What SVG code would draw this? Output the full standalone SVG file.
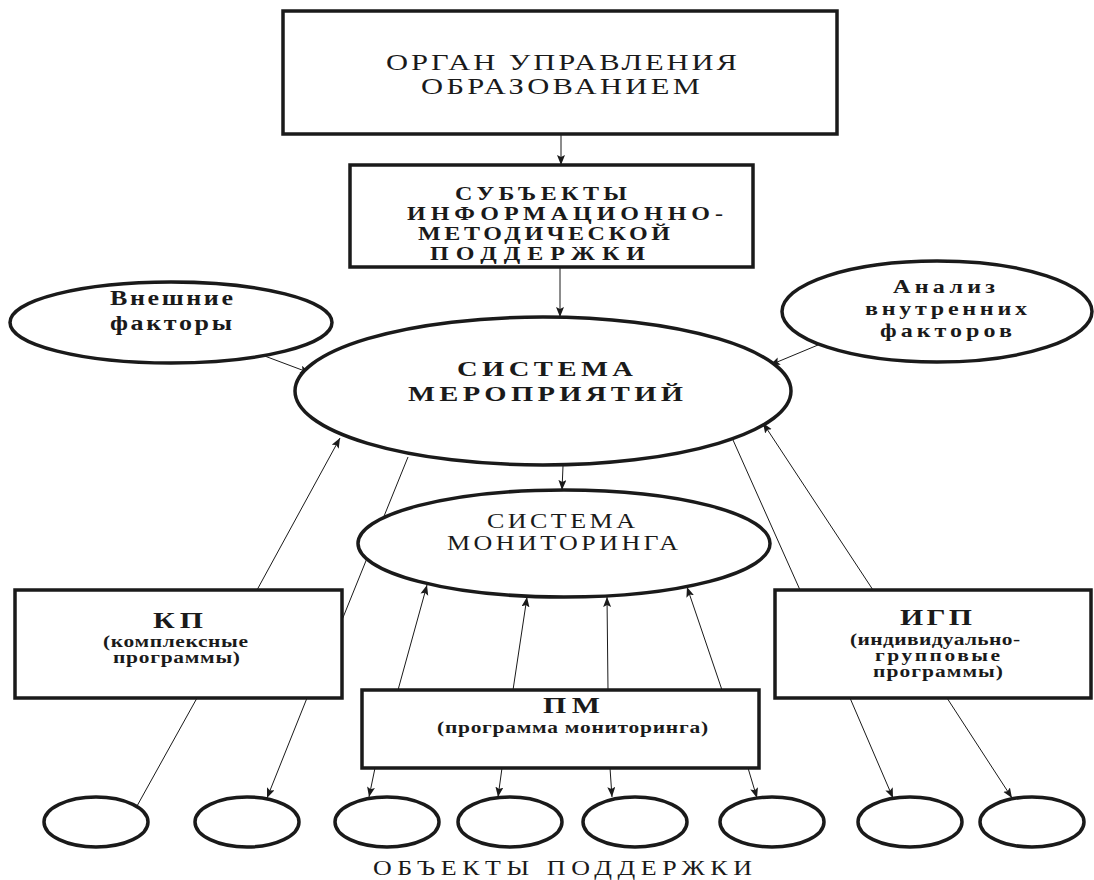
<svg xmlns="http://www.w3.org/2000/svg" width="1094" height="880" viewBox="0 0 1094 880">
<style>
.node{fill:#fff;stroke:#1a1a1a;stroke-width:3.5}
.c{stroke:#1a1a1a;stroke-width:1;fill:none}
text{font-family:"Liberation Serif","Times New Roman",serif;fill:#1a1a1a}
.b{font-weight:bold}
</style>
<defs>
<marker id="ah" markerUnits="userSpaceOnUse" markerWidth="11" markerHeight="9" refX="10" refY="4" orient="auto">
<path d="M0,0 L10,4 L0,8 L2,4 z" fill="#1a1a1a"/>
</marker>
</defs>
<rect width="1094" height="880" fill="#fff"/>
<g id="connectors">
<line class="c" x1="561" y1="134" x2="561" y2="165" marker-end="url(#ah)"/>
<line class="c" x1="560" y1="267" x2="560" y2="317" marker-end="url(#ah)"/>
<line class="c" x1="262" y1="355" x2="310" y2="373" marker-end="url(#ah)"/>
<line class="c" x1="818" y1="345" x2="770" y2="365" marker-end="url(#ah)"/>
<line class="c" x1="257" y1="590" x2="340" y2="438" marker-end="url(#ah)"/>
<line class="c" x1="408" y1="457" x2="342" y2="620"/>
<line class="c" x1="873" y1="590" x2="763" y2="423" marker-end="url(#ah)"/>
<line class="c" x1="733" y1="440" x2="800" y2="590"/>
<line class="c" x1="563" y1="466" x2="562" y2="490" marker-end="url(#ah)"/>
<line class="c" x1="398" y1="690" x2="427" y2="585" marker-end="url(#ah)"/>
<line class="c" x1="513" y1="690" x2="527" y2="597" marker-end="url(#ah)"/>
<line class="c" x1="608" y1="690" x2="607" y2="597" marker-end="url(#ah)"/>
<line class="c" x1="722" y1="690" x2="687" y2="587" marker-end="url(#ah)"/>
<line class="c" x1="375" y1="768" x2="369" y2="797" marker-end="url(#ah)"/>
<line class="c" x1="502" y1="768" x2="498" y2="797" marker-end="url(#ah)"/>
<line class="c" x1="610" y1="768" x2="612" y2="797" marker-end="url(#ah)"/>
<line class="c" x1="748" y1="768" x2="757" y2="798" marker-end="url(#ah)"/>
<line class="c" x1="197" y1="698" x2="137" y2="806"/>
<line class="c" x1="307" y1="698" x2="267" y2="798" marker-end="url(#ah)"/>
<line class="c" x1="850" y1="698" x2="893" y2="798" marker-end="url(#ah)"/>
<line class="c" x1="947" y1="698" x2="1012" y2="798" marker-end="url(#ah)"/>
</g>
<g id="organ">
<rect class="node" x="283" y="11" width="554" height="123"/>
<text transform="translate(386,70) scale(1.3,1)" font-size="23.5" textLength="270" lengthAdjust="spacing">ОРГАН УПРАВЛЕНИЯ</text>
<text transform="translate(421,94) scale(1.3,1)" font-size="23.5" textLength="214.6" lengthAdjust="spacing">ОБРАЗОВАНИЕМ</text>
</g>
<g id="subjects">
<rect class="node" x="350" y="165" width="403" height="102"/>
<text class="b" transform="translate(455,200) scale(1.3,1)" font-size="18.5" textLength="132.3" lengthAdjust="spacing">СУБЪЕКТЫ</text>
<text class="b" transform="translate(407,220) scale(1.3,1)" font-size="18.5" textLength="243.1" lengthAdjust="spacing">ИНФОРМАЦИОННО-</text>
<text class="b" transform="translate(418,240) scale(1.3,1)" font-size="18.5" textLength="193.8" lengthAdjust="spacing">МЕТОДИЧЕСКОЙ</text>
<text class="b" transform="translate(430,260) scale(1.3,1)" font-size="18.5" textLength="165.4" lengthAdjust="spacing">ПОДДЕРЖКИ</text>
</g>
<g id="external">
<ellipse class="node" cx="171" cy="322.5" rx="161" ry="40.5"/>
<text class="b" transform="translate(110,305) scale(1.3,1)" font-size="20" textLength="94.6" lengthAdjust="spacing">Внешние</text>
<text class="b" transform="translate(110,330) scale(1.3,1)" font-size="20" textLength="93.8" lengthAdjust="spacing">факторы</text>
</g>
<g id="internal">
<ellipse class="node" cx="937" cy="311.5" rx="155" ry="50.5"/>
<text class="b" transform="translate(893,293) scale(1.3,1)" font-size="18.5" textLength="78.5" lengthAdjust="spacing">Анализ</text>
<text class="b" transform="translate(865,315) scale(1.3,1)" font-size="18.5" textLength="124.6" lengthAdjust="spacing">внутренних</text>
<text class="b" transform="translate(880,337) scale(1.3,1)" font-size="18.5" textLength="101.5" lengthAdjust="spacing">факторов</text>
</g>
<g id="measures">
<ellipse class="node" cx="543" cy="391" rx="248" ry="74"/>
<text class="b" transform="translate(457,376) scale(1.3,1)" font-size="22" textLength="135.4" lengthAdjust="spacing">СИСТЕМА</text>
<text class="b" transform="translate(408,401) scale(1.3,1)" font-size="22" textLength="211.5" lengthAdjust="spacing">МЕРОПРИЯТИЙ</text>
</g>
<g id="monitoring">
<ellipse class="node" cx="564" cy="543.5" rx="206" ry="53.5" stroke-width="3"/>
<text transform="translate(487,528) scale(1.3,1)" font-size="20" textLength="113.8" lengthAdjust="spacing">СИСТЕМА</text>
<text transform="translate(447,550) scale(1.3,1)" font-size="20" textLength="177.7" lengthAdjust="spacing">МОНИТОРИНГА</text>
</g>
<g id="kp">
<rect class="node" x="15" y="590" width="327" height="108"/>
<text class="b" transform="translate(153,628) scale(1.3,1)" font-size="23" textLength="38.5" lengthAdjust="spacing">КП</text>
<text class="b" transform="translate(103,647) scale(1.3,1)" font-size="16.5" textLength="111.5" lengthAdjust="spacing">(комплексные</text>
<text class="b" transform="translate(113,663) scale(1.3,1)" font-size="16.5" textLength="97.7" lengthAdjust="spacing">программы)</text>
</g>
<g id="igp">
<rect class="node" x="775" y="590" width="316" height="108"/>
<text class="b" transform="translate(900,625) scale(1.3,1)" font-size="23" textLength="55.4" lengthAdjust="spacing">ИГП</text>
<text class="b" transform="translate(850,645) scale(1.3,1)" font-size="16.5" textLength="130.8" lengthAdjust="spacing">(индивидуально-</text>
<text class="b" transform="translate(875,661) scale(1.3,1)" font-size="16.5" textLength="96.2" lengthAdjust="spacing">групповые</text>
<text class="b" transform="translate(873,677) scale(1.3,1)" font-size="16.5" textLength="100" lengthAdjust="spacing">программы)</text>
</g>
<g id="pm">
<rect class="node" x="362" y="690" width="397" height="78" stroke-width="3"/>
<text class="b" transform="translate(543,713) scale(1.3,1)" font-size="23" textLength="43.8" lengthAdjust="spacing">ПМ</text>
<text class="b" transform="translate(437,733) scale(1.3,1)" font-size="16.5" textLength="208.5" lengthAdjust="spacing">(программа мониторинга)</text>
</g>
<g id="objects">
<ellipse class="node" cx="96" cy="822" rx="52" ry="25"/>
<ellipse class="node" cx="247" cy="822" rx="52" ry="25"/>
<ellipse class="node" cx="387" cy="822" rx="52" ry="25"/>
<ellipse class="node" cx="510" cy="822" rx="52" ry="25"/>
<ellipse class="node" cx="635" cy="822" rx="52" ry="25"/>
<ellipse class="node" cx="772" cy="822" rx="52" ry="25"/>
<ellipse class="node" cx="910" cy="822" rx="52" ry="25"/>
<ellipse class="node" cx="1032" cy="822" rx="52" ry="25"/>
<text transform="translate(373,875) scale(1.3,1)" font-size="20" textLength="291.5" lengthAdjust="spacing">ОБЪЕКТЫ ПОДДЕРЖКИ</text>
</g>
</svg>
